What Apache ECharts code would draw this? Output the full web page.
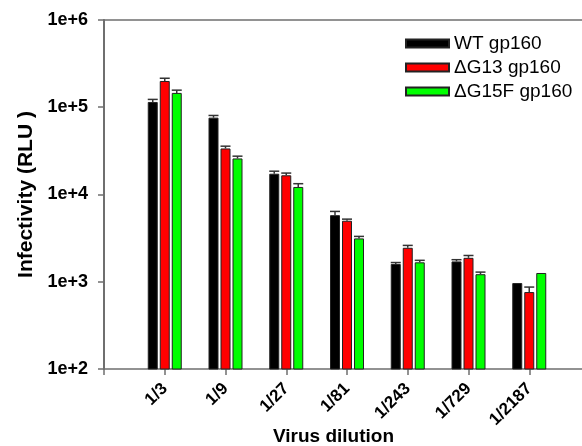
<!DOCTYPE html>
<html>
<head>
<meta charset="utf-8">
<script src="https://cdn.jsdelivr.net/npm/echarts@6/dist/echarts.min.js"></script>
<style>
    html, body { margin: 0; padding: 0; background: #fff; }
    #chart { width: 582px; height: 446px; }
</style>
</head>
<body>
<div id="chart"></div>
<script>
// 数据
var dilutions = ["1/3", "1/9", "1/27", "1/81", "1/243", "1/729", "1/2187"];
var seriesNames = ["WT gp160", "\u0394G13 gp160", "\u0394G15F gp160"];
var wtValues = [115000, 76000, 17300, 5800, 1600, 1710, 966];
var wtErrors = [8000, 4500, 1200, 600, 60, 80, 0];
var g13Values = [200000, 33700, 16600, 5000, 2450, 1880, 762];
var g13Errors = [15000, 2100, 1000, 220, 160, 120, 107];
var g15fValues = [146000, 25900, 12200, 3140, 1670, 1220, 1260];
var g15fErrors = [11000, 1600, 1100, 170, 90, 70, 0];
var yTicks = ["1e+2", "1e+3", "1e+4", "1e+5", "1e+6"];

var FONT = "'Liberation Sans', Arial, sans-serif";
var AXIS_GREY = "#6f6f6f";

var chart = echarts.init(document.getElementById("chart"));

// 空白类目两端补位，使坐标轴从0开始
var axisData = [""].concat(dilutions, [""]);
function pad(arr) {
    return [null].concat(arr, [null]);
}

var allValues = [wtValues, g13Values, g15fValues];
var allErrors = [wtErrors, g13Errors, g15fErrors];
var colors = ["#000000", "#ff0000", "#00ff00"];

// 误差线数据 [类目序号, 数值, 误差, 系列序号]
var errorData = [];
allValues.forEach(function (vals, s) {
    vals.forEach(function (v, i) {
        errorData.push([i + 1, v, allErrors[s][i], s]);
    });
});

var barSeries = seriesNames.map(function (name, s) {
    return {
        name: name,
        type: "bar",
        barWidth: 10,
        barGap: "20%",
        data: pad(allValues[s]),
        itemStyle: {
            color: colors[s],
            borderColor: "#222",
            borderWidth: 1
        }
    };
});

var option = {
    animation: false,
    textStyle: { fontFamily: FONT },
    grid: {
        left: 104,
        top: 20,
        width: 486,
        height: 349,
        containLabel: false,
        outerBoundsMode: "none"
    },
    legend: {
        orient: "vertical",
        left: 400,
        top: 29,
        itemWidth: 43,
        itemHeight: 8,
        itemGap: 5,
        icon: "rect",
        data: seriesNames,
        textStyle: {
            fontFamily: FONT,
            fontSize: 19,
            color: "#000"
        }
    },
    xAxis: [
        {
            type: "category",
            data: axisData,
            boundaryGap: false,
            name: "Virus dilution",
            nameLocation: "middle",
            nameGap: 58,
            nameMoveOverlap: false,
            nameTextStyle: {
                fontFamily: FONT,
                fontWeight: "bold",
                fontSize: 19,
                color: "#000",
                padding: [0, 27, 0, 0]
            },
            axisLine: { lineStyle: { color: AXIS_GREY, width: 1.5 } },
            axisTick: { show: true, length: 6, lineStyle: { color: AXIS_GREY, width: 1.5 } },
            axisLabel: {
                rotate: 45,
                margin: 17,
                interval: 0,
                fontFamily: FONT,
                fontWeight: "bold",
                fontSize: 17,
                color: "#000"
            },
            splitLine: { show: false }
        },
        {
            type: "category",
            position: "top",
            data: axisData,
            boundaryGap: false,
            axisLine: { lineStyle: { color: AXIS_GREY, width: 1.5 } },
            axisTick: { show: false },
            axisLabel: { show: false },
            splitLine: { show: false }
        }
    ],
    yAxis: {
        type: "log",
        logBase: 10,
        min: 100,
        max: 1000000,
        name: "Infectivity (RLU )",
        nameLocation: "middle",
        nameGap: 67,
        nameMoveOverlap: false,
        nameTextStyle: {
            fontFamily: FONT,
            fontWeight: "bold",
            fontSize: 21,
            color: "#000"
        },
        axisLine: { show: true, lineStyle: { color: AXIS_GREY, width: 2 } },
        axisTick: { show: true, length: 6, lineStyle: { color: AXIS_GREY, width: 1.5 } },
        minorTick: { show: false },
        splitLine: { show: false },
        axisLabel: {
            margin: 16,
            fontFamily: FONT,
            fontWeight: "bold",
            fontSize: 18,
            color: "#000",
            formatter: function (v) {
                return yTicks[Math.round(Math.log10(v)) - 2];
            }
        }
    },
    series: barSeries.concat([
        {
            // 误差线（只画上半部分）
            type: "custom",
            name: "errors",
            data: errorData,
            z: 5,
            renderItem: function (params, api) {
                var idx = api.value(0),
                    val = api.value(1),
                    err = api.value(2),
                    s = api.value(3);
                if (!err) {
                    return null;
                }
                var offset = (s - 1) * 12;
                var base = api.coord([idx, val]);
                var top = api.coord([idx, val + err]);
                var x = base[0] + offset;
                var style = { stroke: "#333", lineWidth: 1.5 };
                return {
                    type: "group",
                    children: [
                        { type: "line", shape: { x1: x, y1: base[1], x2: x, y2: top[1] }, style: style },
                        { type: "line", shape: { x1: x - 5, y1: top[1], x2: x + 5, y2: top[1] }, style: style }
                    ]
                };
            }
        }
    ])
};

chart.setOption(option);
</script>
</body>
</html>
